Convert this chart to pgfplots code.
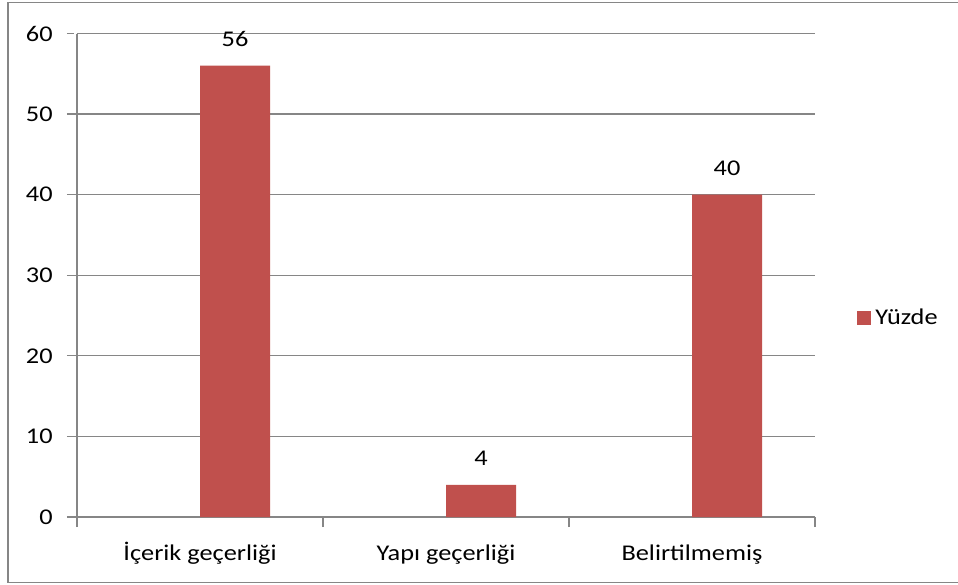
\documentclass[border=0pt]{standalone}
\usepackage{fontspec}
\setmainfont{Carlito}
\usepackage{graphicx}
\usepackage{pgfplots}
\pgfplotsset{compat=1.18}
\definecolor{barred}{HTML}{C0504D}
\definecolor{axgray}{HTML}{868686}
\definecolor{txt}{HTML}{000000}
\newcommand{\fs}{\fontsize{11.25pt}{13pt}\selectfont}
% text in this chart is set slightly wide
\newcommand{\widetxt}[1]{\scalebox{1.17}[1]{#1}}
\begin{document}
\begin{tikzpicture}
% page area and outer chart frame
\clip (-38.5pt,-33.5pt) rectangle (440.5pt,258.5pt);
\fill[white] (-38.5pt,-33.5pt) rectangle (440.5pt,258.5pt);
\draw[axgray, line width=0.9pt] (-34.5pt,-32.75pt) rectangle (470pt,257.25pt);
\begin{axis}[
  at={(0pt,0pt)}, anchor=south west,
  scale only axis, width=369pt, height=241.75pt,
  ybar, bar width=0.285, bar shift=0.1425,
  xmin=-0.5, xmax=2.5, ymin=0, ymax=60,
  axis lines*=left,
  axis line style={axgray, line width=0.6pt},
  ytick={0,10,...,60},
  yticklabel={\widetxt{\pgfmathprintnumber{\tick}}},
  ymajorgrids, grid style={axgray, line width=0.6pt},
  tick align=outside,
  tick style={axgray, line width=0.6pt},
  major tick length=5pt,
  y tick style={shorten >=1.5pt},
  xtick={-0.5,0.5,1.5,2.5}, xticklabels={},
  extra x ticks={0,1,2},
  extra x tick labels={\widetxt{İçerik geçerliği}, \widetxt{Yapı geçerliği}, \widetxt{Belirtilmemiş}},
  extra x tick style={major tick length=0pt, tick style={draw=none}},
  /pgf/number format/assume math mode=true,
  tick label style={font=\fs, text=txt},
  yticklabel style={anchor=east, inner sep=0pt, xshift=-7pt},
  xticklabel style={anchor=base, inner sep=0pt, yshift=-21.5pt},
  nodes near coords={\widetxt{\pgfmathprintnumber{\pgfplotspointmeta}}},
  every node near coord/.append style={font=\fs, text=txt, anchor=base, inner sep=0pt, yshift=9.5pt},
  legend style={at={(1.057,0.4116)}, anchor=west, draw=none, fill=none,
    inner sep=0pt, font=\fs, text=txt,
    /tikz/every even column/.append style={column sep=4pt}},
  legend image code/.code={\fill[barred] (0pt,-3.5pt) rectangle (7pt,3.5pt);},
]
\addplot[fill=barred, draw=none] coordinates {(0,56) (1,4) (2,40)};
\addlegendentry{\widetxt{Yüzde}}
\end{axis}
\end{tikzpicture}
\end{document}
